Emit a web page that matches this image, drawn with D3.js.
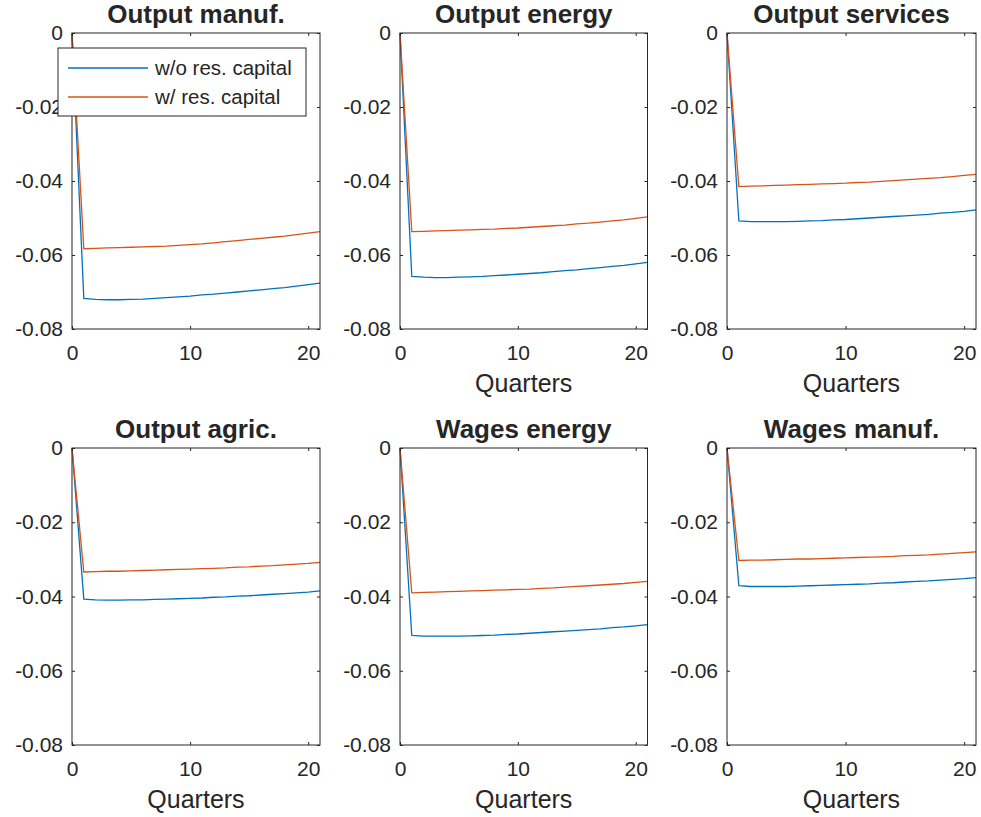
<!DOCTYPE html>
<html>
<head>
<meta charset="utf-8">
<script src="https://cdn.jsdelivr.net/npm/d3@7"></script>
<style>
  body { margin: 0; background: #fff; }
  text { font-family: "Liberation Sans", Arial, sans-serif; fill: #262626; }
</style>
</head>
<body>
<svg id="fig" width="981" height="817"></svg>
<script>
const width = 981, height = 817;

const quarters = [0, 1, 2, 3, 4, 5, 6, 7, 8, 9, 10, 11, 12, 13, 14, 15, 16, 17, 18, 19, 20, 21];
const xTicks = [0, 10, 20];
const yTicks = [0, -0.02, -0.04, -0.06, -0.08];
const seriesNames = ["w/o res. capital", "w/ res. capital"];
const panelTitles = ["Output manuf.", "Output energy", "Output services", "Output agric.", "Wages energy", "Wages manuf."];
const hasXLabel = [false, true, true, true, true, true];

const woManuf = [0, -0.0717, -0.0720, -0.0721, -0.0721, -0.0720, -0.0719, -0.0717, -0.0715, -0.0713, -0.0711, -0.0708, -0.0706, -0.0703, -0.0700, -0.0697, -0.0694, -0.0691, -0.0688, -0.0684, -0.0680, -0.0676];
const wManuf = [0, -0.0583, -0.0582, -0.0581, -0.0580, -0.0579, -0.0578, -0.0577, -0.0576, -0.0574, -0.0572, -0.0570, -0.0567, -0.0564, -0.0561, -0.0558, -0.0555, -0.0552, -0.0549, -0.0545, -0.0541, -0.0537];
const woEnergy = [0, -0.0658, -0.0660, -0.0661, -0.0661, -0.0660, -0.0659, -0.0658, -0.0656, -0.0654, -0.0652, -0.0650, -0.0648, -0.0645, -0.0642, -0.0640, -0.0637, -0.0634, -0.0631, -0.0628, -0.0624, -0.0620];
const wEnergy = [0, -0.0537, -0.0536, -0.0535, -0.0534, -0.0533, -0.0532, -0.0531, -0.0530, -0.0528, -0.0527, -0.0525, -0.0523, -0.0521, -0.0519, -0.0516, -0.0514, -0.0511, -0.0508, -0.0505, -0.0501, -0.0497];
const woServices = [0, -0.0508, -0.0510, -0.0510, -0.0510, -0.0510, -0.0509, -0.0508, -0.0507, -0.0505, -0.0504, -0.0502, -0.0500, -0.0498, -0.0496, -0.0494, -0.0492, -0.0490, -0.0487, -0.0485, -0.0482, -0.0478];
const wServices = [0, -0.0415, -0.0414, -0.0413, -0.0412, -0.0411, -0.0410, -0.0409, -0.0408, -0.0407, -0.0406, -0.0404, -0.0403, -0.0401, -0.0399, -0.0397, -0.0395, -0.0393, -0.0391, -0.0388, -0.0385, -0.0382];
const woAgric = [0, -0.0407, -0.0409, -0.0410, -0.0410, -0.0409, -0.0409, -0.0408, -0.0407, -0.0406, -0.0405, -0.0404, -0.0402, -0.0401, -0.0399, -0.0398, -0.0396, -0.0394, -0.0392, -0.0390, -0.0388, -0.0385];
const wAgric = [0, -0.0334, -0.0333, -0.0332, -0.0332, -0.0331, -0.0330, -0.0329, -0.0328, -0.0327, -0.0326, -0.0325, -0.0324, -0.0323, -0.0321, -0.0320, -0.0318, -0.0317, -0.0315, -0.0313, -0.0311, -0.0308];
const woWagesEnergy = [0, -0.0505, -0.0507, -0.0507, -0.0507, -0.0507, -0.0506, -0.0505, -0.0504, -0.0502, -0.0501, -0.0499, -0.0497, -0.0495, -0.0493, -0.0491, -0.0489, -0.0487, -0.0484, -0.0482, -0.0479, -0.0476];
const wWagesEnergy = [0, -0.0390, -0.0389, -0.0388, -0.0387, -0.0386, -0.0385, -0.0384, -0.0383, -0.0382, -0.0381, -0.0380, -0.0378, -0.0377, -0.0375, -0.0373, -0.0371, -0.0369, -0.0367, -0.0365, -0.0362, -0.0359];
const woWagesManuf = [0, -0.0371, -0.0373, -0.0373, -0.0373, -0.0373, -0.0372, -0.0371, -0.0370, -0.0369, -0.0368, -0.0367, -0.0366, -0.0364, -0.0363, -0.0361, -0.0359, -0.0358, -0.0356, -0.0354, -0.0352, -0.0349];
const wWagesManuf = [0, -0.0303, -0.0302, -0.0302, -0.0301, -0.0300, -0.0299, -0.0299, -0.0298, -0.0297, -0.0296, -0.0295, -0.0294, -0.0293, -0.0292, -0.0290, -0.0289, -0.0288, -0.0286, -0.0284, -0.0282, -0.0280];

const panelSeries = [
    [woManuf, wManuf],
    [woEnergy, wEnergy],
    [woServices, wServices],
    [woAgric, wAgric],
    [woWagesEnergy, wWagesEnergy],
    [woWagesManuf, wWagesManuf]
];

const colors = ["#0072BD", "#D95319"];
const axisColor = "#262626";

// subplot boxes, matlab style
const colLeft = [72, 400, 727];
const colWidth = [248, 247.5, 249];
const rowTop = [33, 448];
const rowHeight = [296, 297];

const svg = d3.select("#fig");

panelTitles.forEach((title, i) => {
    const col = i % 3, row = Math.floor(i / 3);
    const x0 = colLeft[col], y0 = rowTop[row];
    const w = colWidth[col], h = rowHeight[row];

    const x = d3.scaleLinear().domain([0, 21]).range([x0, x0 + w]);
    const y = d3.scaleLinear().domain([-0.08, 0]).range([y0 + h, y0]);

    const g = svg.append("g");

    g.append("rect")
        .attr("x", x0).attr("y", y0)
        .attr("width", w).attr("height", h)
        .attr("fill", "#fff");

    const line = d3.line().x((d, k) => x(quarters[k])).y(d => y(d));
    panelSeries[i].forEach((vals, s) => {
        g.append("path")
            .datum(vals)
            .attr("d", line)
            .attr("fill", "none")
            .attr("stroke", colors[s])
            .attr("stroke-width", 1.3);
    });

    const styleAxis = sel => {
        sel.select(".domain").remove();
        sel.selectAll("line").attr("stroke", axisColor);
        sel.selectAll("text")
            .style("font-size", "21px")
            .attr("fill", axisColor);
    };

    g.append("g")
        .attr("transform", `translate(${x0},0)`)
        .call(d3.axisLeft(y).tickValues(yTicks).tickSize(-3).tickPadding(9)
            .tickFormat(d => d === 0 ? "0" : d3.format(".2f")(d).replace("−", "-")))
        .call(styleAxis);
    g.append("g")
        .attr("transform", `translate(${x0 + w},0)`)
        .call(d3.axisRight(y).tickValues(yTicks).tickSize(-3).tickFormat(""))
        .call(styleAxis);
    g.append("g")
        .attr("transform", `translate(0,${y0 + h})`)
        .call(d3.axisBottom(x).tickValues(xTicks).tickSize(-3).tickPadding(16))
        .call(styleAxis);
    g.append("g")
        .attr("transform", `translate(0,${y0})`)
        .call(d3.axisTop(x).tickValues(xTicks).tickSize(-3).tickFormat(""))
        .call(styleAxis);

    g.append("rect")
        .attr("x", x0).attr("y", y0)
        .attr("width", w).attr("height", h)
        .attr("fill", "none")
        .attr("stroke", axisColor)
        .attr("stroke-width", 1);

    g.append("text")
        .attr("x", x0 + w / 2).attr("y", y0 - 10)
        .attr("text-anchor", "middle")
        .style("font-size", "26px")
        .style("font-weight", "bold")
        .attr("fill", "#000")
        .text(title);

    if (hasXLabel[i]) {
        g.append("text")
            .attr("x", x0 + w / 2).attr("y", y0 + h + 63)
            .attr("text-anchor", "middle")
            .style("font-size", "25px")
            .text("Quarters");
    }
});

// legend on the first panel
const legend = svg.append("g");
legend.append("rect")
    .attr("x", 58).attr("y", 48)
    .attr("width", 248).attr("height", 68)
    .attr("fill", "#fff")
    .attr("stroke", axisColor)
    .attr("stroke-width", 1);

seriesNames.forEach((name, s) => {
    const ly = 68 + s * 29;
    legend.append("line")
        .attr("x1", 68).attr("x2", 148)
        .attr("y1", ly).attr("y2", ly)
        .attr("stroke", colors[s])
        .attr("stroke-width", 1.3);
    legend.append("text")
        .attr("x", 155).attr("y", ly)
        .attr("dy", "0.35em")
        .style("font-size", "20.5px")
        .text(name);
});
</script>
</body>
</html>
